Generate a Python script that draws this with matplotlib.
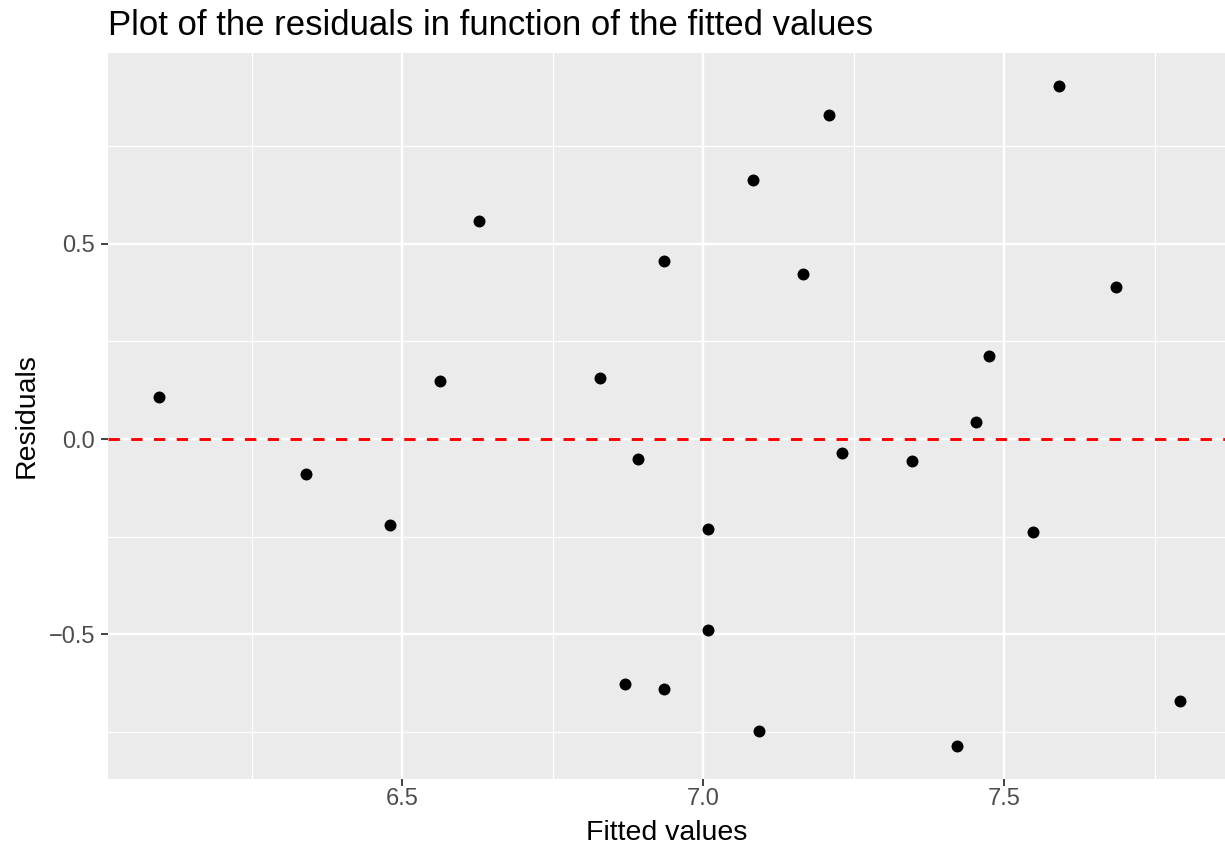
import matplotlib
matplotlib.use('Agg')
import matplotlib.pyplot as plt

# fitted values and residuals
fitted = [6.097, 6.341, 6.479, 6.563, 6.627, 6.828, 6.870, 6.891, 6.934, 6.934,
          7.008, 7.008, 7.082, 7.093, 7.166, 7.209, 7.230, 7.347, 7.421, 7.453,
          7.474, 7.548, 7.591, 7.686, 7.791]
residuals = [0.107, -0.090, -0.220, 0.149, 0.559, 0.156, -0.627, -0.052, 0.455, -0.641,
             -0.231, -0.490, 0.662, -0.748, 0.422, 0.829, -0.037, -0.055, -0.785, 0.043,
             0.212, -0.238, 0.903, 0.390, -0.671]

x_major = [6.5, 7.0, 7.5]
x_minor = [6.25, 6.75, 7.25, 7.75]
y_major = [-0.5, 0.0, 0.5]
y_minor = [-0.75, -0.25, 0.25, 0.75]

plt.rcParams['font.family'] = ['Liberation Sans', 'DejaVu Sans']

W, H = 1225, 847
fig = plt.figure(figsize=(W / 100, H / 100), dpi=100)
ax = fig.add_axes([108 / W, (H - 778.5) / H, 1 - 108 / W, (778.5 - 53.5) / H])
ax.set_facecolor('#EBEBEB')
for s in ax.spines.values():
    s.set_visible(False)

ax.set_xlim(6.0116, 6.0116 + (W - 108) / 602.3)
ax.set_ylim(-0.869, 0.987)

ax.set_xticks(x_major)
ax.set_xticks(x_minor, minor=True)
ax.set_yticks(y_major)
ax.set_yticks(y_minor, minor=True)
ax.set_xticklabels(['6.5', '7.0', '7.5'])
ax.set_yticklabels(['\u22120.5', '0.0', '0.5'])

ax.grid(True, which='major', color='white', linewidth=1.75)
ax.grid(True, which='minor', color='white', linewidth=0.9)
ax.set_axisbelow(True)

ax.tick_params(which='major', length=4.8, width=1.3, color='#333333',
               labelcolor='#4D4D4D', labelsize=17)
ax.tick_params(axis='x', which='major', pad=1.8)
ax.tick_params(axis='y', which='major', pad=4.5)
ax.tick_params(which='minor', length=0)

ax.axhline(0, color='red', linewidth=2.1, dashes=(3.9, 3.9), zorder=3)
ax.plot(fitted, residuals, 'o', color='black', markersize=8.6, markeredgewidth=0,
        zorder=4)

fig.text(108 / W, (H - 35) / H, 'Plot of the residuals in function of the fitted values',
         fontsize=25, color='black', ha='left', va='baseline')
fig.text((108 + W) / 2 / W, 1 / H, 'Fitted values', fontsize=20.5,
         color='black', ha='center', va='bottom')
fig.text(33.3 / W, (H - 416) / H, 'Residuals', fontsize=20.5, color='black',
         rotation=90, ha='center', va='baseline', rotation_mode='anchor')

fig.savefig('out.png', dpi=100)
